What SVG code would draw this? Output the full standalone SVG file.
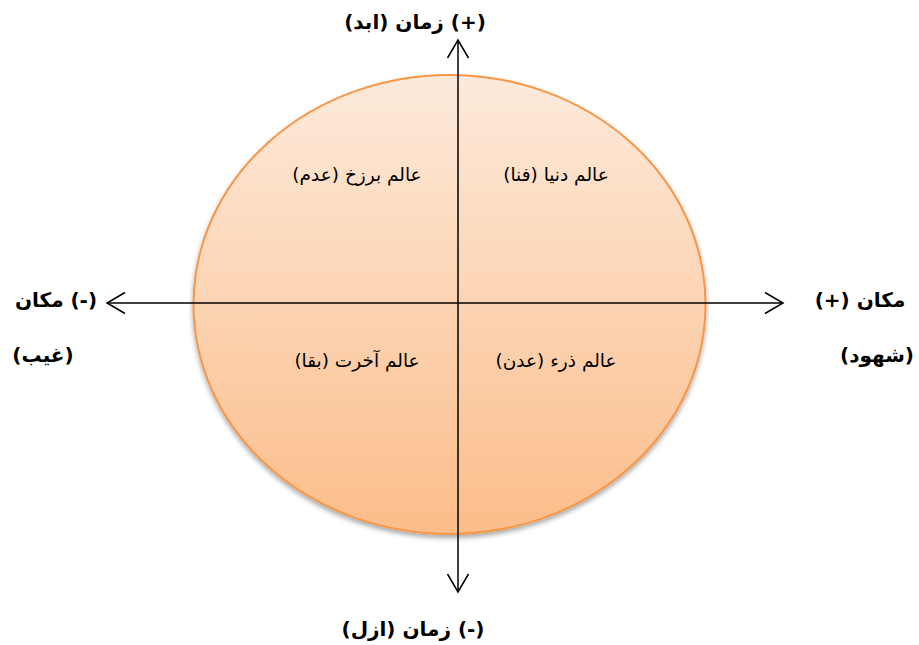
<svg xmlns="http://www.w3.org/2000/svg" width="919" height="645" viewBox="0 0 919 645">
<defs>
<linearGradient id="g" x1="0" y1="0" x2="0" y2="1">
<stop offset="0" stop-color="#fdeadb"/>
<stop offset="1" stop-color="#fbbd8a"/>
</linearGradient>
<filter id="sh" x="-10%" y="-10%" width="120%" height="125%">
<feDropShadow dx="0" dy="3" stdDeviation="2.5" flood-color="#000" flood-opacity="0.35"/>
</filter>
<marker id="ah" viewBox="0 0 24 24" refX="20" refY="12" markerWidth="24" markerHeight="24" markerUnits="userSpaceOnUse" orient="auto-start-reverse">
<path d="M2,1.5 L20,12 L2,22.5" fill="none" stroke="#000" stroke-width="1.5"/>
</marker>
<style>
.b{font-family:"DejaVu Sans",sans-serif;font-weight:bold;font-size:20px;fill:#000}
.n{font-family:"DejaVu Sans",sans-serif;font-size:18.5px;fill:#000}
.ax{stroke:#000;stroke-width:1.5;fill:none}
</style>
</defs>
<g id="world">
<ellipse cx="449.5" cy="304.5" rx="256" ry="229.5" fill="url(#g)" stroke="#f79646" stroke-width="2" filter="url(#sh)"/>
</g>
<g id="connectors">
<line class="ax" x1="458" y1="592" x2="458" y2="40" marker-start="url(#ah)" marker-end="url(#ah)"/>
<line class="ax" x1="107" y1="303" x2="783" y2="303" marker-start="url(#ah)" marker-end="url(#ah)"/>
</g>
<g id="time-plus"><text class="b" x="415" y="29" text-anchor="middle" direction="rtl">(+) زمان (ابد)</text></g>
<g id="time-minus"><text class="b" x="413" y="636" text-anchor="middle" direction="rtl">(-) زمان (ازل)</text></g>
<g id="space-minus">
<text class="b" x="56" y="307" text-anchor="middle" direction="rtl">(-) مکان</text>
<text class="b" x="43" y="362" text-anchor="middle" direction="rtl">(غیب)</text>
</g>
<g id="space-plus">
<text class="b" x="860" y="307" text-anchor="middle" direction="rtl">مکان (+)</text>
<text class="b" x="877" y="362" text-anchor="middle" direction="rtl">(شهود)</text>
</g>
<g id="barzakh"><text class="n" x="357" y="181" text-anchor="middle" direction="rtl">عالم برزخ (عدم)</text></g>
<g id="donya"><text class="n" x="556" y="181" text-anchor="middle" direction="rtl">عالم دنیا (فنا)</text></g>
<g id="akherat"><text class="n" x="357" y="367" text-anchor="middle" direction="rtl">عالم آخرت (بقا)</text></g>
<g id="zar"><text class="n" x="556" y="367" text-anchor="middle" direction="rtl">عالم ذرء (عدن)</text></g>
</svg>
